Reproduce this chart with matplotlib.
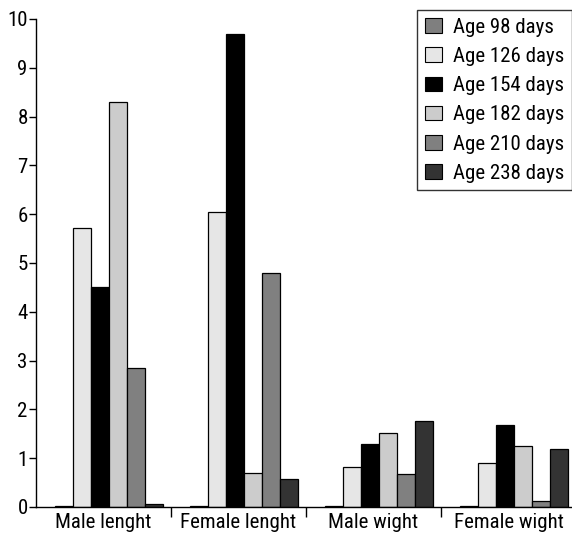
import matplotlib.pyplot as plt
import numpy as np
from matplotlib.legend_handler import HandlerPatch
from matplotlib.patches import Rectangle

plt.rcParams['font.family'] = ['Roboto Condensed', 'DejaVu Sans']

groups = ["Male lenght", "Female lenght", "Male wight", "Female wight"]
ages = ["Age 98 days", "Age 126 days", "Age 154 days",
        "Age 182 days", "Age 210 days", "Age 238 days"]
colors = ["#7f7f7f", "#e6e6e6", "#000000", "#cccccc", "#808080", "#333333"]

# values per age, one entry per group
age98 = [0.02, 0.02, 0.02, 0.02]
age126 = [5.72, 6.05, 0.81, 0.91]
age154 = [4.50, 9.70, 1.30, 1.69]
age182 = [8.30, 0.70, 1.51, 1.25]
age210 = [2.85, 4.80, 0.68, 0.13]
age238 = [0.06, 0.58, 1.77, 1.19]
series = [age98, age126, age154, age182, age210, age238]

fig = plt.figure(figsize=(5.72, 5.36), dpi=100)
ax = fig.add_axes([36/572, 29/536, (572-36)/572, (507-19)/536])

x = np.arange(len(groups))
w = 0.133
for k, vals in enumerate(series):
    ax.bar(x + 0.04 + (k - 2.5)*w, vals, w, color=colors[k],
           edgecolor="black", linewidth=0.9, label=ages[k])

ax.set_xlim(-0.5, 3.47)
ax.set_ylim(0, 10)
ax.set_yticks(range(0, 11))
ax.tick_params(axis='y', labelsize=15, length=5, width=1, pad=1)
ax.set_xticks(x)
ax.set_xticklabels(groups)
ax.tick_params(axis='x', which='major', length=0, labelsize=15, pad=4)
ax.set_xticks([0.5, 1.5, 2.5], minor=True)
ax.tick_params(axis='x', which='minor', length=7, width=1)
for s in ['top', 'right']:
    ax.spines[s].set_visible(False)
for s in ['left', 'bottom']:
    ax.spines[s].set_linewidth(1)


# small square marker sitting at the right end of the handle box
def square(legend, orig, xdescent, ydescent, width, height, fontsize):
    sq = 10 * 72 / fig.dpi
    return Rectangle((-xdescent + width - sq, -ydescent + (height - sq) / 2), sq, sq)


leg = ax.legend(loc='upper left', bbox_to_anchor=(417/572, 1 - 10/536),
                bbox_transform=fig.transFigure, borderaxespad=0, fontsize=15,
                frameon=True, fancybox=False, edgecolor='black',
                handlelength=0.83, handleheight=0.7, handletextpad=0.53,
                labelspacing=0.49, borderpad=0.37,
                handler_map={Rectangle: HandlerPatch(patch_func=square)})
leg.get_frame().set_linewidth(1)
for h in leg.legend_handles:
    h.set_linewidth(0.8)

fig.savefig("out.png", dpi=100)
